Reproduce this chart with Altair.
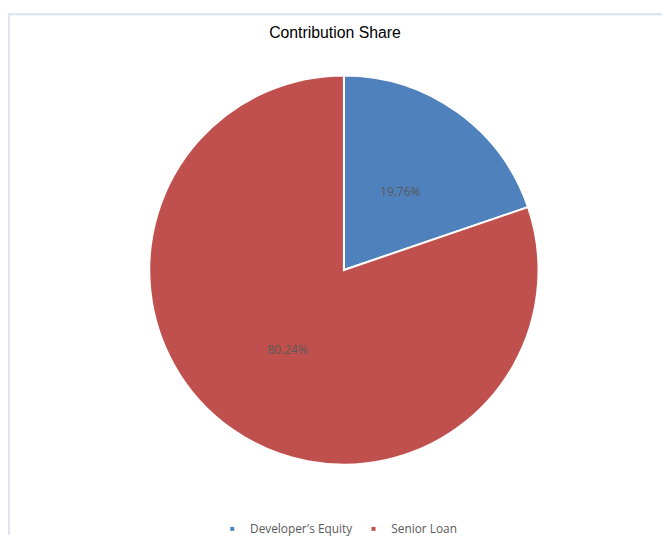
import altair as alt
import pandas as pd

categories = ["Developer's Equity", "Senior Loan"]
shares = [19.76, 80.24]
labels = ["19.76%", "80.24%"]
colors = ["#4F81BD", "#C0504D"]

df = pd.DataFrame({
    "category": categories,
    "share": shares,
    "label": labels,
    "order": list(range(len(categories))),
})

W, H = 662, 530
CX, CY = 340, 262

base = alt.Chart(df).encode(
    theta=alt.Theta("share:Q", stack=True),
    order=alt.Order("order:Q"),
)

pie = base.mark_arc(outerRadius=197, stroke="white", strokeWidth=2).encode(
    x=alt.value(CX),
    y=alt.value(CY),
    color=alt.Color(
        "category:N",
        scale=alt.Scale(domain=categories, range=colors),
        sort=categories,
        legend=alt.Legend(
            title=None,
            orient="none",
            legendX=221,
            legendY=518,
            direction="horizontal",
            symbolType="square",
            symbolSize=16,
            symbolStrokeWidth=0,
            labelFont="Open Sans",
            labelFontSize=12,
            labelColor="#595959",
            labelOffset=12,
            columnPadding=15,
            padding=0,
        ),
    ),
)

text = base.mark_text(radius=98, font="Open Sans", fontSize=12, color="#595959").encode(
    x=alt.value(CX),
    y=alt.value(CY + 1),
    text="label:N",
)

border_top = alt.Chart(df).mark_rule(color="#DCE6F2", strokeWidth=2).encode(
    x=alt.value(0), x2=alt.value(W), y=alt.value(3)
)
border_left = alt.Chart(df).mark_rule(color="#DCE6F2", strokeWidth=2).encode(
    x=alt.value(1), y=alt.value(2), y2=alt.value(H)
)

chart = alt.layer(border_top, border_left, pie, text).properties(
    width=W,
    height=H,
    padding=0,
    autosize=alt.AutoSizeParams(type="none"),
    title=alt.TitleParams(
        "Contribution Share",
        font="Liberation Sans",
        fontSize=16,
        fontWeight="normal",
        color="#000000",
        anchor="middle",
        dy=34,
    ),
).configure_view(stroke=None)

chart.save("out.html", embed_options={"renderer": "svg", "actions": False})
